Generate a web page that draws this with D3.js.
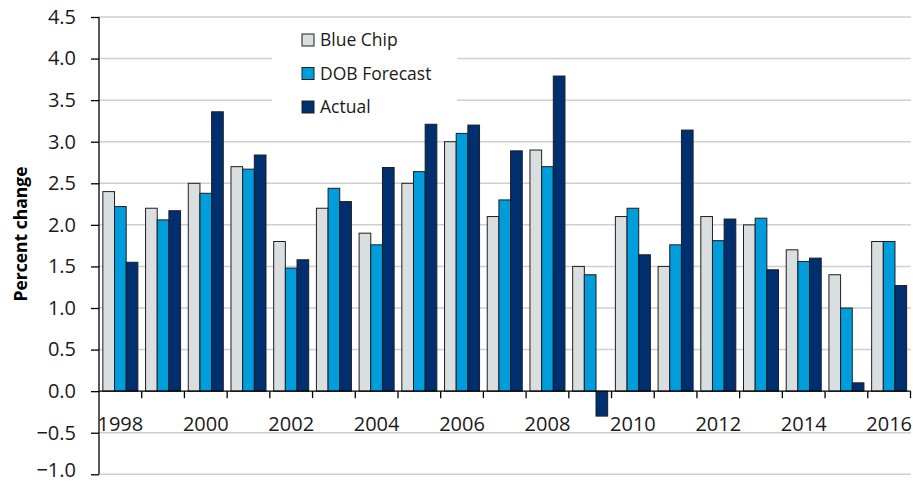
<!DOCTYPE html>
<html><head><meta charset="utf-8">
<script src="https://cdn.jsdelivr.net/npm/d3@7"></script>
<style>body{margin:0;background:#fff}svg{display:block}</style>
</head><body>
<svg id="chart" width="913" height="484"></svg>
<script>
const years = ["1998","1999","2000","2001","2002","2003","2004","2005","2006","2007","2008","2009","2010","2011","2012","2013","2014","2015","2016"];
const blueChip = [2.40,2.20,2.50,2.70,1.80,2.20,1.90,2.50,3.00,2.10,2.90,1.50,2.10,1.50,2.10,2.00,1.70,1.40,1.80];
const dobForecast = [2.22,2.06,2.38,2.67,1.48,2.44,1.76,2.64,3.10,2.30,2.70,1.40,2.20,1.76,1.81,2.08,1.56,1.00,1.80];
const actual = [1.55,2.17,3.36,2.84,1.58,2.28,2.69,3.21,3.20,2.89,3.79,-0.30,1.64,3.14,2.07,1.46,1.60,0.10,1.27];
const seriesNames = ["Blue Chip","DOB Forecast","Actual"];
const yTicks = [-1.0,-0.5,0,0.5,1.0,1.5,2.0,2.5,3.0,3.5,4.0,4.5];
const xLabelYears = ["1998","2000","2002","2004","2006","2008","2010","2012","2014","2016"];
const colors = ["#D9DEE1","#009DDC","#002F6F"];

const svg = d3.select("#chart");
const font = "'Open Sans', 'Noto Sans', sans-serif";
const mLeft = 99, mRight = 910.5, mTop = 17, mBottom = 474.3;

const y = d3.scaleLinear().domain([-1, 4.5]).range([mBottom, mTop]);
const x0 = d3.scaleBand().domain(years).range([mLeft, mRight]).padding(0);
const x1 = d3.scaleBand().domain(seriesNames).range([0, x0.bandwidth()]).paddingInner(0).paddingOuter(0.33);

const data = years.map((yr, i) => ({year: yr, values: [blueChip[i], dobForecast[i], actual[i]]}));

// gridlines
svg.append("g").selectAll("line").data(yTicks.filter(d => d !== 0)).join("line")
  .attr("x1", mLeft).attr("x2", 911).attr("y1", d => y(d)).attr("y2", d => y(d))
  .attr("stroke", "#CFCFCF").attr("stroke-width", 1.5);

// bars
const groups = svg.append("g").selectAll("g").data(data).join("g")
  .attr("transform", d => `translate(${x0(d.year)},0)`);
groups.selectAll("rect").data(d => d.values.map((v, k) => ({v, k}))).join("rect")
  .attr("x", d => x1(seriesNames[d.k]))
  .attr("width", x1.bandwidth())
  .attr("y", d => y(Math.max(0, d.v)))
  .attr("height", d => Math.abs(y(d.v) - y(0)))
  .attr("fill", d => colors[d.k])
  .attr("stroke", "#1E1E1E").attr("stroke-width", 1);

// y axis
const yAxis = svg.append("g").attr("transform", `translate(${mLeft},0)`)
  .call(d3.axisLeft(y).tickValues(yTicks).tickFormat(d3.format(".1f")).tickSize(8).tickPadding(15));
yAxis.select(".domain").attr("stroke", "#000").attr("stroke-width", 1.3).attr("d", `M0,${mTop}V${mBottom}`);
yAxis.selectAll(".tick line").attr("stroke", "#000").attr("stroke-width", 1.3);
yAxis.selectAll("text").attr("font-family", font).attr("font-size", 20).attr("fill", "#1a1a1a");
yAxis.selectAll(".tick").filter(d => d === -1).select("text").attr("dy", "0.12em");

// x axis zero line + boundary ticks
const xg = svg.append("g");
xg.append("line").attr("x1", mLeft).attr("x2", mRight).attr("y1", y(0)).attr("y2", y(0))
  .attr("stroke", "#000").attr("stroke-width", 1.3);
const boundaries = years.slice(1).map(d => x0(d)).concat([x0(years[years.length-1]) + x0.bandwidth()]);
xg.selectAll("line.tk").data(boundaries).join("line").attr("class", "tk")
  .attr("x1", d => d).attr("x2", d => d).attr("y1", y(0)).attr("y2", y(0) + 7)
  .attr("stroke", "#000").attr("stroke-width", 1.3);
const xAxis = svg.append("g").attr("transform", `translate(0,${y(0)})`)
  .call(d3.axisBottom(x0).tickValues(xLabelYears).tickSize(0).tickPadding(26));
xAxis.select(".domain").remove();
xAxis.selectAll("text").attr("font-family", font).attr("font-size", 20).attr("fill", "#1a1a1a");

// y title
svg.append("text").attr("transform", "translate(27,234) rotate(-90)")
  .attr("text-anchor", "middle").attr("font-family", font).attr("font-weight", "bold")
  .attr("font-size", 17.5).attr("fill", "#000").text("Percent change");

// legend
const lg = svg.append("g");
lg.append("rect").attr("x", 272).attr("y", 22).attr("width", 185).attr("height", 100).attr("fill", "#fff");
const rows = lg.selectAll("g").data(seriesNames).join("g")
  .attr("transform", (d, i) => `translate(302,${40 + i * 33.5})`);
rows.append("rect").attr("x", 0).attr("y", -6).attr("width", 12).attr("height", 12)
  .attr("fill", (d, i) => colors[i]).attr("stroke", "#1E1E1E").attr("stroke-width", 1);
rows.append("text").attr("x", 18).attr("y", 0).attr("dy", "0.35em")
  .attr("font-family", font).attr("font-size", 17.5).attr("fill", "#1a1a1a").text(d => d);
</script>
</body></html>
